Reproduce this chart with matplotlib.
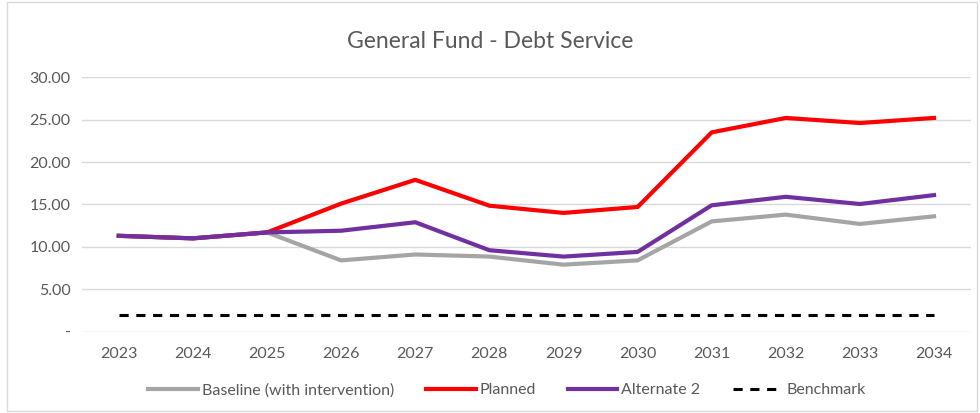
import numpy as np
import matplotlib.pyplot as plt
from matplotlib.patches import Rectangle

plt.rcParams['font.family'] = ['Lato', 'DejaVu Sans']

# data
years = [2023, 2024, 2025, 2026, 2027, 2028, 2029, 2030, 2031, 2032, 2033, 2034]
baseline = [11.3, 11.0, 11.7, 8.4, 9.1, 8.85, 7.9, 8.4, 13.0, 13.8, 12.7, 13.6]
planned = [11.3, 11.0, 11.7, 15.1, 17.9, 14.85, 14.0, 14.7, 23.5, 25.2, 24.6, 25.2]
alternate2 = [11.3, 11.0, 11.7, 11.9, 12.9, 9.6, 8.85, 9.4, 14.9, 15.9, 15.05, 16.1]
benchmark = [2.0] * len(years)
yticks = [0, 5, 10, 15, 20, 25, 30]
ytick_labels = ['-', '5.00', '10.00', '15.00', '20.00', '25.00', '30.00']

txt = '#595959'

fig = plt.figure(figsize=(9.8, 4.13), dpi=100)
ax = fig.add_axes([0.0834, 0.197, 0.9075, 0.616])

x = np.arange(len(years))
ax.plot(x, baseline, color='#A5A5A5', lw=3, label='Baseline (with intervention)', zorder=3)
ax.plot(x, planned, color='#FF0000', lw=3, label='Planned', zorder=3)
ax.plot(x, alternate2, color='#7030A0', lw=3, label='Alternate 2', zorder=4)
ax.plot(x, benchmark, color='black', lw=2.2, ls=(0, (3, 2.5)), label='Benchmark', zorder=3)

ax.set_xlim(-0.5, len(years) - 0.5)
ax.set_ylim(0, 30)
ax.set_xticks(x)
ax.set_xticklabels([str(y) for y in years])
ax.set_yticks(yticks)
ax.set_yticklabels(ytick_labels)
ax.tick_params(length=0, labelsize=11.5, colors=txt, pad=8)
ax.tick_params(axis='x', pad=11)
ax.grid(axis='y', color='#D9D9D9', lw=1)
ax.set_axisbelow(True)
for s in ax.spines.values():
    s.set_visible(False)

fig.text(0.5, 0.9, 'General Fund - Debt Service', ha='center', va='center',
         fontsize=16.5, color=txt)

# legend sits a bit left of the plot centre, as in the original
ax.legend(loc='center', bbox_to_anchor=(0.478, -0.23), ncol=4, frameon=False,
          fontsize=11.5, labelcolor=txt, handlelength=3.1, handletextpad=0.25,
          columnspacing=2.0)

# chart frame
fig.add_artist(Rectangle((0.007, 0.005), 0.99, 0.99, transform=fig.transFigure,
                         fill=False, edgecolor='#D9D9D9', lw=1))

fig.savefig('out.png', dpi=100)
